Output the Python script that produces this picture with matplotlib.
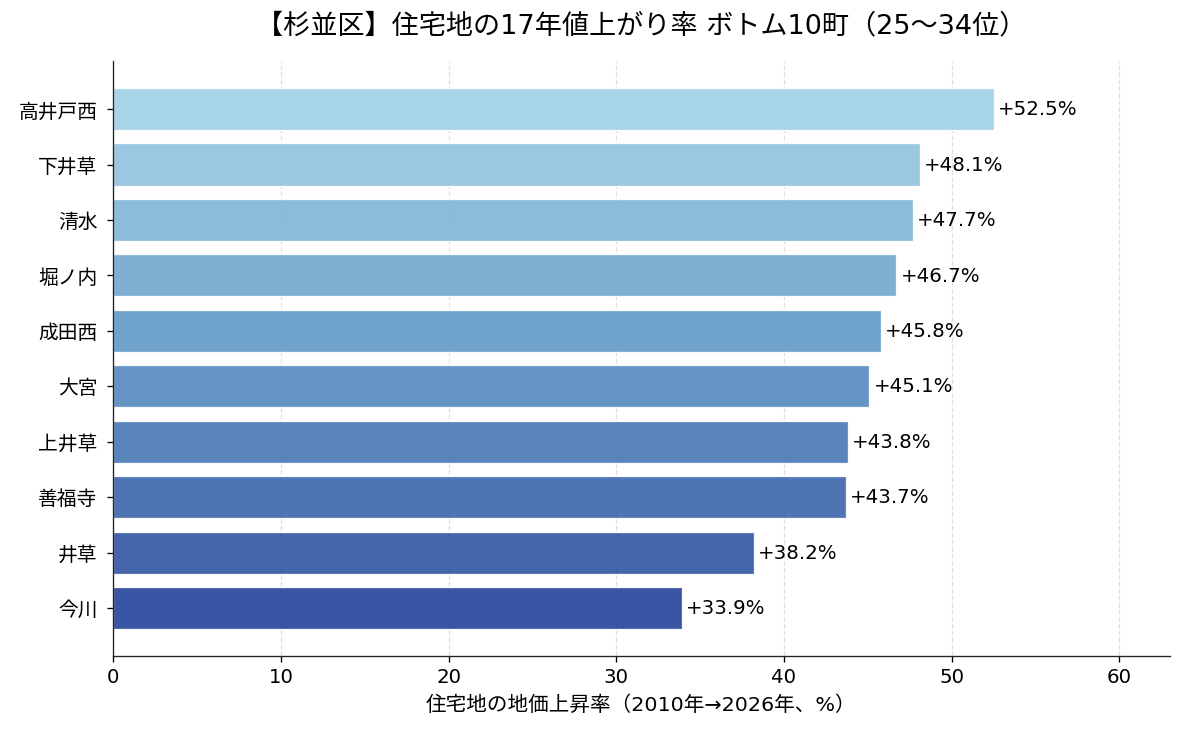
import matplotlib
matplotlib.use("Agg")
import matplotlib.pyplot as plt
from matplotlib.colors import LinearSegmentedColormap
import numpy as np

plt.rcParams['font.family'] = ['DejaVu Sans', 'Noto Sans CJK JP']

towns = ["高井戸西", "下井草", "清水", "堀ノ内", "成田西", "大宮", "上井草", "善福寺", "井草", "今川"]
values = [52.5, 48.1, 47.7, 46.7, 45.8, 45.1, 43.8, 43.7, 38.2, 33.9]
title = "【杉並区】住宅地の17年値上がり率 ボトム10町（25〜34位）"
xlabel = "住宅地の地価上昇率（2010年→2026年、%）"

cmap = LinearSegmentedColormap.from_list("b", ["#9ed0e5", "#5892c2", "#24429a"])
n = len(towns)
colors = [cmap(i / (n - 1)) for i in range(n)]

fig, ax = plt.subplots(figsize=(10, 6.2), dpi=118.5)
fig.subplots_adjust(left=0.0955, right=0.987, top=0.916, bottom=0.106)

ypos = np.arange(n)[::-1]
ax.barh(ypos, values, height=0.76, color=colors, alpha=0.9, edgecolor="white", linewidth=0.8, zorder=2)
for y, v in zip(ypos, values):
    ax.text(v + 0.25, y, f"+{v:.1f}%", va="center", ha="left", fontsize=12, zorder=3)

ax.set_yticks(ypos)
ax.set_yticklabels(towns, fontsize=12)
ax.tick_params(axis='y', pad=6)
ax.set_xlim(0, max(values) * 1.2)
ax.set_xticks(np.arange(0, 61, 10))
ax.tick_params(axis='x', labelsize=12)
ax.set_xlabel(xlabel, fontsize=12.5, labelpad=5)
ax.set_title(title, fontsize=16.5, pad=17)
ax.grid(axis='x', linestyle='--', color='#cccccc', alpha=0.6, zorder=0)
ax.set_axisbelow(True)
for s in ["top", "right"]:
    ax.spines[s].set_visible(False)
for s in ["left", "bottom"]:
    ax.spines[s].set_color("#222222")

fig.savefig("out.png", dpi=118.5)
